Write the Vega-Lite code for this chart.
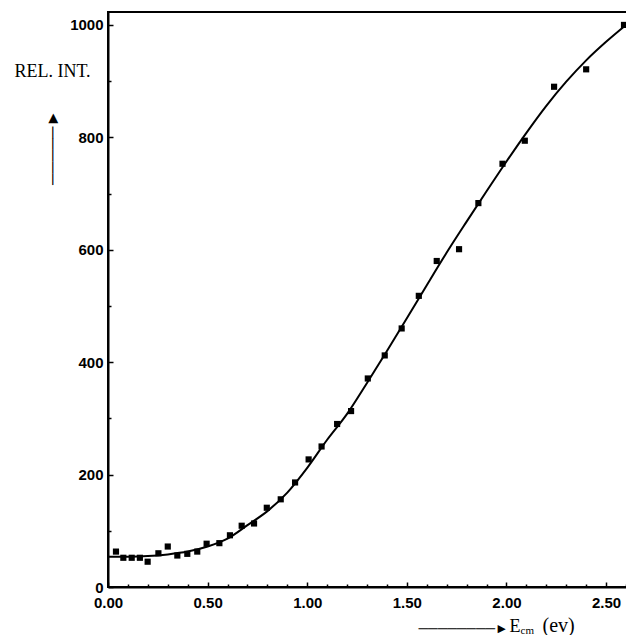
{
  "$schema": "https://vega.github.io/schema/vega-lite/v6.json",
  "width": 520,
  "height": 575,
  "autosize": "none",
  "padding": {"left": 108, "top": 12, "right": 0, "bottom": 48},
  "background": "white",
  "config": {
    "view": {"stroke": "black", "strokeWidth": 2},
    "axis": {
      "domainColor": "black",
      "domainWidth": 2,
      "tickColor": "black",
      "tickWidth": 1.5,
      "grid": false,
      "labelFont": "Liberation Sans",
      "labelFontWeight": "bold",
      "labelFontSize": 15,
      "labelColor": "black",
      "titleFont": "Liberation Serif",
      "titleFontWeight": "normal",
      "titleColor": "black",
      "titleFontSize": 18
    }
  },
  "datasets": {
    "points": [
      {"e": 0.04, "i": 63}, {"e": 0.077, "i": 52}, {"e": 0.119, "i": 52}, {"e": 0.16, "i": 52},
      {"e": 0.199, "i": 45}, {"e": 0.253, "i": 60}, {"e": 0.3, "i": 72}, {"e": 0.348, "i": 56},
      {"e": 0.398, "i": 59}, {"e": 0.448, "i": 63}, {"e": 0.495, "i": 77}, {"e": 0.559, "i": 78},
      {"e": 0.612, "i": 92}, {"e": 0.671, "i": 109}, {"e": 0.733, "i": 113}, {"e": 0.797, "i": 141},
      {"e": 0.867, "i": 156}, {"e": 0.939, "i": 186}, {"e": 1.007, "i": 227}, {"e": 1.072, "i": 250},
      {"e": 1.15, "i": 290}, {"e": 1.22, "i": 313}, {"e": 1.304, "i": 371}, {"e": 1.389, "i": 412},
      {"e": 1.474, "i": 460}, {"e": 1.56, "i": 518}, {"e": 1.65, "i": 580}, {"e": 1.762, "i": 601},
      {"e": 1.859, "i": 683}, {"e": 1.98, "i": 753}, {"e": 2.092, "i": 794}, {"e": 2.239, "i": 890},
      {"e": 2.4, "i": 921}, {"e": 2.59, "i": 1000}
    ],
    "curve": [
      {"e": 0.0, "i": 54}, {"e": 0.1, "i": 54}, {"e": 0.2, "i": 55}, {"e": 0.3, "i": 58},
      {"e": 0.4, "i": 63}, {"e": 0.5, "i": 72}, {"e": 0.6, "i": 86}, {"e": 0.7, "i": 110},
      {"e": 0.8, "i": 135}, {"e": 0.9, "i": 168}, {"e": 1.0, "i": 212}, {"e": 1.1, "i": 262},
      {"e": 1.2, "i": 308}, {"e": 1.3, "i": 363}, {"e": 1.4, "i": 420}, {"e": 1.5, "i": 478},
      {"e": 1.6, "i": 537}, {"e": 1.7, "i": 595}, {"e": 1.8, "i": 650}, {"e": 1.9, "i": 704},
      {"e": 2.0, "i": 757}, {"e": 2.1, "i": 808}, {"e": 2.2, "i": 856}, {"e": 2.3, "i": 899},
      {"e": 2.4, "i": 937}, {"e": 2.5, "i": 970}, {"e": 2.6, "i": 1000}
    ]
  },
  "resolve": {"axis": {"x": "independent", "y": "independent"}},
  "layer": [
    {
      "data": {"name": "points"},
      "transform": [{"filter": "datum.e < 0.9"}],
      "mark": {"type": "point", "shape": "square", "filled": true, "color": "black", "opacity": 1, "size": 38},
      "encoding": {
        "x": {
          "field": "e", "type": "quantitative",
          "scale": {"domain": [0, 2.61], "nice": false, "zero": false},
          "axis": {
            "orient": "bottom",
            "values": [0,0.1,0.2,0.3,0.4,0.5,0.6,0.7,0.8,0.9,1.0,1.1,1.2,1.3,1.4,1.5,1.6,1.7,1.8,1.9,2.0,2.1,2.2,2.3,2.4,2.5,2.6],
            "labelExpr": "abs(datum.value*2 - round(datum.value*2)) < 0.001 ? format(datum.value, '.2f') : ''",
            "tickSize": {"condition": {"test": "abs(datum.value*2 - round(datum.value*2)) < 0.001", "value": -5}, "value": -3},
            "labelPadding": 13,
            "labelFlush": false,
            "labelOverlap": false,
            "title": "E",
            "titleAnchor": "start",
            "titleAlign": "left",
            "titleBaseline": "alphabetic",
            "titleX": 401,
            "titleY": 44
          }
        },
        "y": {
          "field": "i", "type": "quantitative",
          "scale": {"domain": [0, 1023], "nice": false, "zero": false},
          "axis": {
            "orient": "left",
            "values": [0,100,200,300,400,500,600,700,800,900,1000],
            "labelExpr": "datum.value % 200 == 0 ? format(datum.value, 'd') : ''",
            "tickSize": {"condition": {"test": "datum.value % 200 == 0", "value": -5}, "value": -3},
            "labelPadding": 10,
            "labelOverlap": false,
            "title": "REL. INT.",
            "titleAngle": 0,
            "titleAlign": "center",
            "titleBaseline": "middle",
            "titleX": -56,
            "titleY": 59
          }
        }
      }
    },
    {
      "data": {"name": "curve"},
      "mark": {"type": "line", "color": "black", "strokeWidth": 2, "interpolate": "monotone"},
      "encoding": {
        "x": {
          "field": "e", "type": "quantitative",
          "axis": {
            "orient": "bottom",
            "domain": false, "ticks": false, "labels": false, "grid": false,
            "title": "cm",
            "titleFontSize": 11,
            "titleAlign": "left",
            "titleBaseline": "alphabetic",
            "titleX": 412,
            "titleY": 46
          }
        },
        "y": {
          "field": "i", "type": "quantitative",
          "axis": {
            "orient": "left",
            "domain": false, "ticks": false, "labels": false, "grid": false,
            "title": "\u2500\u2500\u2500\u2500\u2500\u25ba",
            "titleFontSize": 16.5,
            "titleFontWeight": "bold",
            "titleAngle": 270,
            "titleAlign": "center",
            "titleBaseline": "middle",
            "titleX": -56,
            "titleY": 135
          }
        }
      }
    },
    {
      "data": {"name": "points"},
      "transform": [{"filter": "datum.e >= 0.9 && datum.e < 1.8"}],
      "mark": {"type": "point", "shape": "square", "filled": true, "color": "black", "opacity": 1, "size": 38},
      "encoding": {
        "x": {
          "field": "e", "type": "quantitative",
          "axis": {
            "orient": "bottom",
            "domain": false, "ticks": false, "labels": false, "grid": false,
            "title": "(ev)",
            "titleFontSize": 20,
            "titleAlign": "left",
            "titleBaseline": "alphabetic",
            "titleX": 434,
            "titleY": 44
          }
        },
        "y": {"field": "i", "type": "quantitative", "axis": null}
      }
    },
    {
      "data": {"name": "points"},
      "transform": [{"filter": "datum.e >= 1.8"}],
      "mark": {"type": "point", "shape": "square", "filled": true, "color": "black", "opacity": 1, "size": 38},
      "encoding": {
        "x": {
          "field": "e", "type": "quantitative",
          "axis": {
            "orient": "bottom",
            "domain": false, "ticks": false, "labels": false, "grid": false,
            "title": "\u2500\u2500\u2500\u2500\u2500\u2500\u2500\u2500\u25ba",
            "titleFontSize": 13.5,
            "titleFontWeight": "bold",
            "titleAlign": "left",
            "titleBaseline": "alphabetic",
            "titleX": 310,
            "titleY": 45
          }
        },
        "y": {"field": "i", "type": "quantitative", "axis": null}
      }
    }
  ]
}
